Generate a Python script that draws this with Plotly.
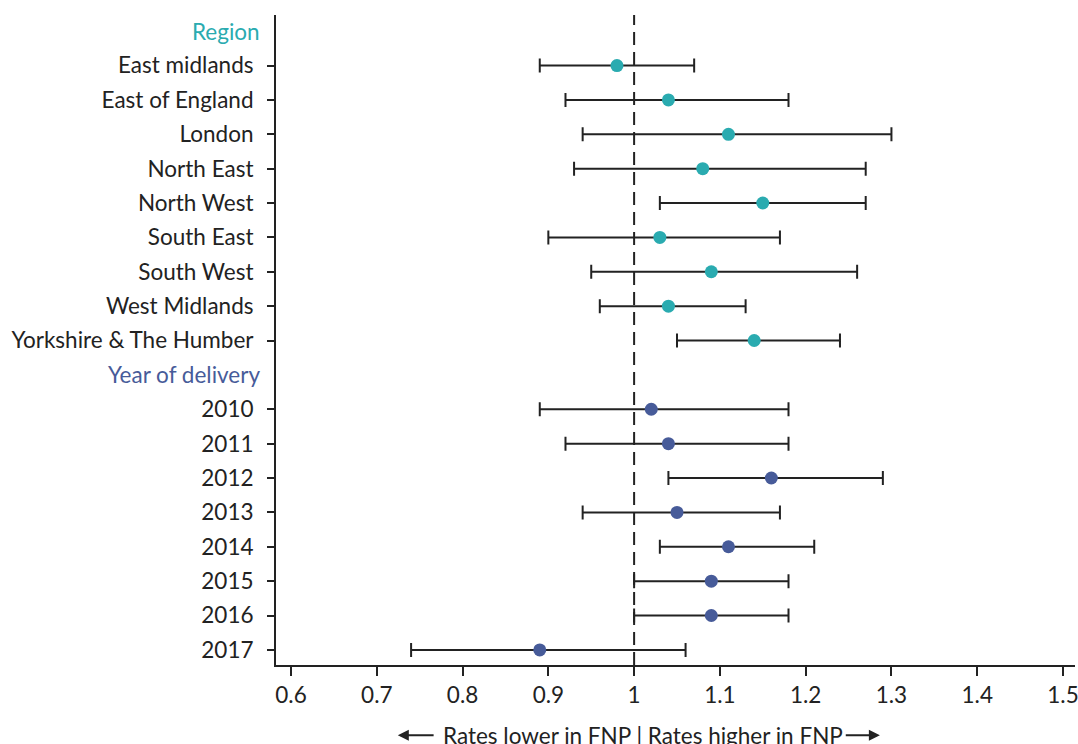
import plotly.graph_objects as go

# rows, top to bottom (headings have no data)
regions = ["East midlands", "East of England", "London", "North East", "North West",
           "South East", "South West", "West Midlands", "Yorkshire & The Humber"]
region_rr = [0.98, 1.04, 1.11, 1.08, 1.15, 1.03, 1.09, 1.04, 1.14]
region_lo = [0.89, 0.92, 0.94, 0.93, 1.03, 0.90, 0.95, 0.96, 1.05]
region_hi = [1.07, 1.18, 1.30, 1.27, 1.27, 1.17, 1.26, 1.13, 1.24]

years = ["2010", "2011", "2012", "2013", "2014", "2015", "2016", "2017"]
year_rr = [1.02, 1.04, 1.16, 1.05, 1.11, 1.09, 1.09, 0.89]
year_lo = [0.89, 0.92, 1.04, 0.94, 1.03, 1.00, 1.00, 0.74]
year_hi = [1.18, 1.18, 1.29, 1.17, 1.21, 1.18, 1.18, 1.06]

x_ticks = [0.6, 0.7, 0.8, 0.9, 1, 1.1, 1.2, 1.3, 1.4, 1.5]
x_ticklabels = ["0.6", "0.7", "0.8", "0.9", "1", "1.1", "1.2", "1.3", "1.4", "1.5"]

TEAL = "#2aabb0"
NAVY = "#475b99"
INK = "#222222"
FONT = "Lato, 'Open Sans', sans-serif"
FS = 22.5

# row positions: Region heading = 0, regions 1..9, Year heading = 10, years 11..18
region_y = list(range(1, 1 + len(regions)))
year_y = list(range(11, 11 + len(years)))


def ci_trace(y, rr, lo, hi, colour):
    return go.Scatter(
        x=rr, y=y, mode="markers",
        marker=dict(size=13, color=colour),
        error_x=dict(type="data", symmetric=False,
                     array=[h - r for h, r in zip(hi, rr)],
                     arrayminus=[r - l for r, l in zip(rr, lo)],
                     color=INK, thickness=2, width=7),
        showlegend=False, hoverinfo="x+y",
    )


fig = go.Figure()
fig.add_trace(ci_trace(region_y, region_rr, region_lo, region_hi, TEAL))
fig.add_trace(ci_trace(year_y, year_rr, year_lo, year_hi, NAVY))

# reference line at 1
fig.add_shape(type="line", x0=1, x1=1, xref="x", y0=0, y1=1, yref="paper",
              line=dict(color=INK, width=2, dash="13px,7px"), layer="below")

# group headings
for txt, yy, col in [("Region", 0, TEAL), ("Year of delivery", 10, NAVY)]:
    fig.add_annotation(text=txt, x=0, xref="paper", y=yy, yref="y",
                       xanchor="right", xshift=-14, showarrow=False,
                       font=dict(size=FS, color=col, family=FONT))

# direction note under the axis, with arrows either side
note_y = -0.108
fig.add_annotation(text="Rates lower in FNP | Rates higher in FNP",
                   x=1.010, xref="x", y=note_y, yref="paper", yanchor="middle",
                   showarrow=False, font=dict(size=FS, color=INK, family=FONT))
for head, tail in [(0.7245, 0.768), (1.2865, 1.245)]:
    fig.add_annotation(text="", x=head, xref="x", y=note_y, yref="paper",
                       ax=tail, axref="x", ay=0, ayref="pixel",
                       showarrow=True, arrowhead=2, arrowsize=1.1,
                       arrowwidth=2, arrowcolor=INK)

fig.update_layout(
    width=1078, height=744,
    margin=dict(l=276, r=3, t=15, b=79),
    paper_bgcolor="white", plot_bgcolor="white",
    font=dict(family=FONT, size=FS, color=INK),
    xaxis=dict(range=[0.5825, 1.514], tickvals=x_ticks, ticktext=x_ticklabels,
               ticks="outside", ticklen=9, tickwidth=2, tickcolor=INK,
               showline=True, linecolor=INK, linewidth=2, showgrid=False,
               zeroline=False, tickfont=dict(size=FS), automargin=False,
               ticklabeloverflow="allow"),
    yaxis=dict(range=[18.44, -0.47], tickvals=region_y + year_y,
               ticktext=regions + years, ticks="outside", ticklen=7,
               tickwidth=2, tickcolor=INK, showline=True, linecolor=INK,
               linewidth=2, showgrid=False, zeroline=False,
               tickfont=dict(size=FS), ticklabelstandoff=9, automargin=False),
)

# drop the browser's default body margin so the figure fills the window
fig.write_html("out.html", config={"displayModeBar": False},
               post_script="document.body.style.margin='0';"
                           "document.body.style.overflow='hidden';")
